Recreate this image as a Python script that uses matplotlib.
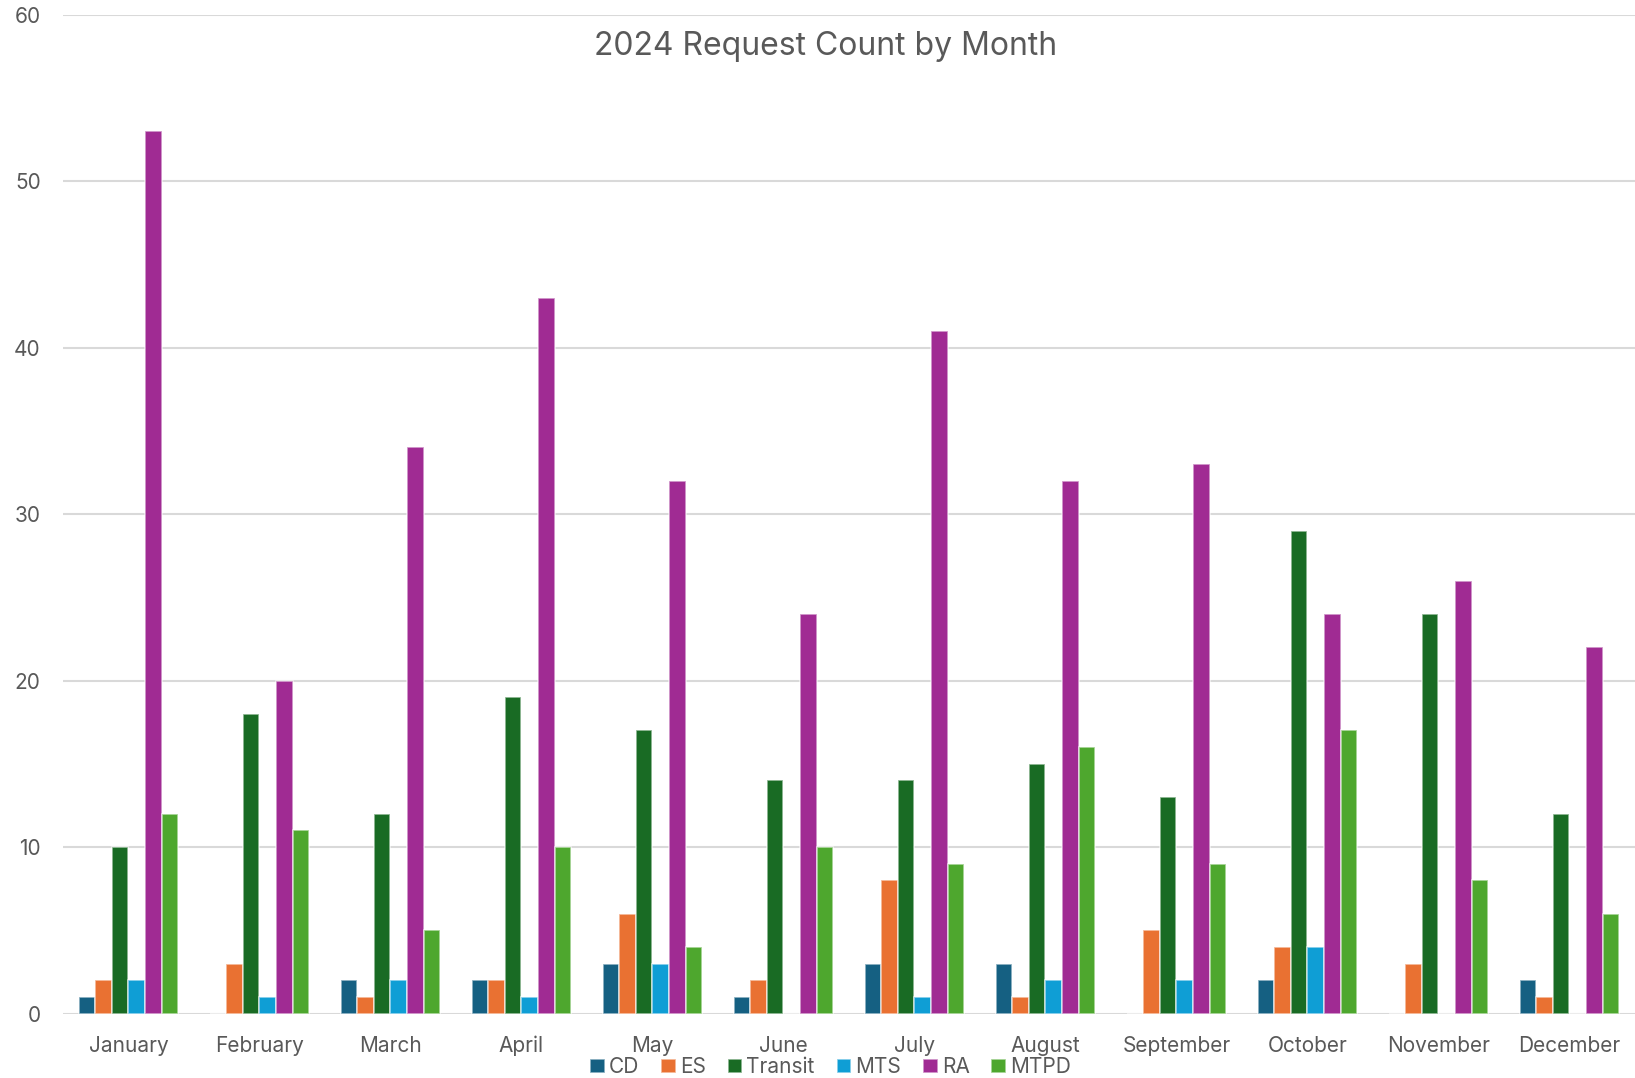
import numpy as np
import matplotlib.pyplot as plt

months = ["January", "February", "March", "April", "May", "June", "July",
          "August", "September", "October", "November", "December"]
series = ["CD", "ES", "Transit", "MTS", "RA", "MTPD"]
cd = [1, 0, 2, 2, 3, 1, 3, 3, 0, 2, 0, 2]
es = [2, 3, 1, 2, 6, 2, 8, 1, 5, 4, 3, 1]
transit = [10, 18, 12, 19, 17, 14, 14, 15, 13, 29, 24, 12]
mts = [2, 1, 2, 1, 3, 0, 1, 2, 2, 4, 0, 0]
ra = [53, 20, 34, 43, 32, 24, 41, 32, 33, 24, 26, 22]
mtpd = [12, 11, 5, 10, 4, 10, 9, 16, 9, 17, 8, 6]
colors = ["#156082", "#E97132", "#196B24", "#0F9ED5", "#A02B93", "#4EA72E"]

plt.rcParams["font.family"] = ["Inter", "DejaVu Sans"]
grey = "#595959"

fig = plt.figure(figsize=(16.35, 10.78), dpi=100, facecolor="white")
ax = fig.add_axes([0.0385, 0.0598, 0.9615, 0.9267])

x = np.arange(len(months))
w = 0.127
for i, (name, vals) in enumerate(zip(series, [cd, es, transit, mts, ra, mtpd])):
    ax.bar(x + (i - 2.5) * w, vals, width=w, color=colors[i], label=name,
           edgecolor=(1, 1, 1, 0.6), linewidth=1.2, zorder=3)

ax.set_xlim(-0.5, len(months) - 0.5)
ax.set_ylim(0, 60)
ax.set_yticks(range(0, 61, 10))
ax.set_xticks(x)
ax.set_xticklabels(months)
ax.tick_params(axis="both", length=0, labelsize=15, labelcolor=grey)
ax.tick_params(axis="y", pad=16)
ax.tick_params(axis="x", pad=16)
ax.grid(axis="y", color="#D9D9D9", linewidth=1.5, zorder=0)
for s in ax.spines.values():
    s.set_visible(False)

fig.text(0.505, 0.957, "2024 Request Count by Month", ha="center", va="center",
         fontsize=23, color=grey)

fig.legend(loc="center", bbox_to_anchor=(0.508, 0.010), ncol=6, frameon=False,
           fontsize=15, labelcolor=grey, handlelength=0.7, handleheight=0.7,
           handletextpad=0.2, columnspacing=1.05, borderpad=0)

fig.savefig("out.png", dpi=100, facecolor="white")
